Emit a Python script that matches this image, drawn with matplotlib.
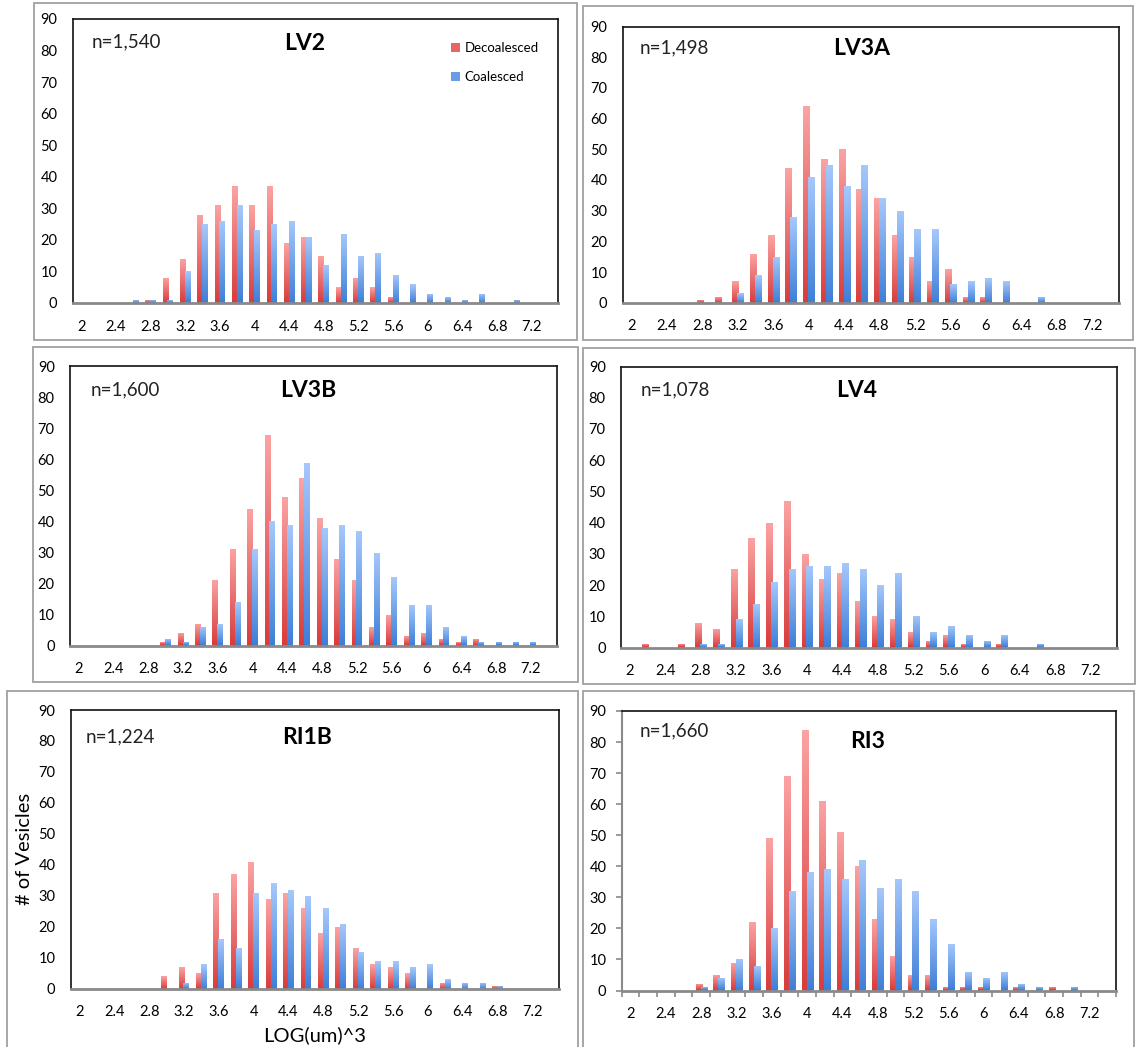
import matplotlib
matplotlib.use("Agg")
import matplotlib.pyplot as plt
import numpy as np
from matplotlib.colors import LinearSegmentedColormap
from matplotlib.patches import Rectangle, Patch

plt.rcParams['font.family'] = ['Lato', 'DejaVu Sans']

# bins of LOG(um)^3
bins = [2.0, 2.2, 2.4, 2.6, 2.8, 3.0, 3.2, 3.4, 3.6, 3.8, 4.0, 4.2, 4.4, 4.6,
        4.8, 5.0, 5.2, 5.4, 5.6, 5.8, 6.0, 6.2, 6.4, 6.6, 6.8, 7.0, 7.2, 7.4]
tick_labels = ["2", "2.4", "2.8", "3.2", "3.6", "4", "4.4", "4.8", "5.2",
               "5.6", "6", "6.4", "6.8", "7.2"]

names = ["LV2", "LV3A", "LV3B", "LV4", "RI1B", "RI3"]
counts = ["n=1,540", "n=1,498", "n=1,600", "n=1,078", "n=1,224", "n=1,660"]

lv2_dec = [0, 0, 0, 0, 1, 8, 14, 28, 31, 37, 31, 37, 19, 21, 15, 5, 8, 5, 2, 0, 0, 0, 0, 0, 0, 0, 0, 0]
lv2_coa = [0, 0, 0, 1, 1, 1, 10, 25, 26, 31, 23, 25, 26, 21, 12, 22, 15, 16, 9, 6, 3, 2, 1, 3, 0, 1, 0, 0]

lv3a_dec = [0, 0, 0, 0, 1, 2, 7, 16, 22, 44, 64, 47, 50, 37, 34, 22, 15, 7, 11, 2, 2, 0, 0, 0, 0, 0, 0, 0]
lv3a_coa = [0, 0, 0, 0, 0, 0, 3, 9, 15, 28, 41, 45, 38, 45, 34, 30, 24, 24, 6, 7, 8, 7, 0, 2, 0, 0, 0, 0]

lv3b_dec = [0, 0, 0, 0, 0, 1, 4, 7, 21, 31, 44, 68, 48, 54, 41, 28, 21, 6, 10, 3, 4, 2, 1, 2, 0, 0, 0, 0]
lv3b_coa = [0, 0, 0, 0, 0, 2, 1, 6, 7, 14, 31, 40, 39, 59, 38, 39, 37, 30, 22, 13, 13, 6, 3, 1, 1, 1, 1, 0]

lv4_dec = [0, 1, 0, 1, 8, 6, 25, 35, 40, 47, 30, 22, 24, 15, 10, 9, 5, 2, 4, 1, 0, 1, 0, 0, 0, 0, 0, 0]
lv4_coa = [0, 0, 0, 0, 1, 1, 9, 14, 21, 25, 26, 26, 27, 25, 20, 24, 10, 5, 7, 4, 2, 4, 0, 1, 0, 0, 0, 0]

ri1b_dec = [0, 0, 0, 0, 0, 4, 7, 5, 31, 37, 41, 29, 31, 26, 18, 20, 13, 8, 7, 5, 0, 2, 0, 0, 1, 0, 0, 0]
ri1b_coa = [0, 0, 0, 0, 0, 0, 2, 8, 16, 13, 31, 34, 32, 30, 26, 21, 12, 9, 9, 7, 8, 3, 2, 2, 1, 0, 0, 0]

ri3_dec = [0, 0, 0, 0, 2, 5, 9, 22, 49, 69, 84, 61, 51, 40, 23, 11, 5, 5, 1, 1, 1, 0, 1, 0, 1, 0, 0, 0]
ri3_coa = [0, 0, 0, 0, 1, 4, 10, 8, 20, 32, 38, 39, 36, 42, 33, 36, 32, 23, 15, 6, 4, 6, 2, 1, 0, 1, 0, 0]

decoalesced = [lv2_dec, lv3a_dec, lv3b_dec, lv4_dec, ri1b_dec, ri3_dec]
coalesced = [lv2_coa, lv3a_coa, lv3b_coa, lv4_coa, ri1b_coa, ri3_coa]

W, H = 1136, 1047
red_top, red_bot = "#fba3a3", "#d83c3c"
blue_top, blue_bot = "#a6c8fb", "#3f7fd8"

# plot frames in pixels: x0, x1, y_top, y_bottom
frames = [(72.7, 557.7, 19, 303), (622.7, 1118.7, 26.6, 302.7),
          (70, 557, 366.5, 645.5), (621, 1117, 366.5, 647.5),
          (70.7, 558.7, 710, 988.7), (621.7, 1116, 711, 990.5)]
# outer chart boxes in pixels
boxes = [(34, 577, 3, 340), (583, 1133, 6, 340), (33, 578, 347, 682),
         (583, 1135, 348, 684), (7, 578, 691, 1060), (583, 1134, 691, 1060)]
# label positions in axes fraction
n_pos = [(0.038, 0.92), (0.035, 0.922), (0.043, 0.915), (0.039, 0.918), (0.03, 0.903), (0.037, 0.93)]
t_pos = [(0.479, 0.915), (0.482, 0.92), (0.49, 0.915), (0.476, 0.915), (0.484, 0.9), (0.498, 0.89)]

fig = plt.figure(figsize=(W / 100, H / 100), dpi=100)

for (bx0, bx1, by0, by1) in boxes:
    fig.add_artist(Rectangle((bx0 / W, 1 - by1 / H), (bx1 - bx0) / W, (by1 - by0) / H,
                             transform=fig.transFigure, fill=False,
                             edgecolor="#a0a0a0", linewidth=1.3))


def gradient_bars(ax, x, h, c_top, c_bot):
    bars = ax.bar(x, h, width=0.34, color=c_bot, linewidth=0, zorder=2)
    cmap = LinearSegmentedColormap.from_list("g", [c_bot, c_top])
    grad = np.linspace(0, 1, 64).reshape(-1, 1)
    for b in bars:
        if b.get_height() <= 0:
            continue
        x0, y0 = b.get_x(), b.get_y()
        im = ax.imshow(grad, cmap=cmap, origin="lower", aspect="auto",
                       extent=[x0, x0 + b.get_width(), y0, y0 + b.get_height()],
                       zorder=2.5, interpolation="bilinear")
        im.set_clip_path(b)
    return bars


pos = np.arange(len(bins))
for i in range(6):
    x0, x1, yt, yb = frames[i]
    ax = fig.add_axes([x0 / W, 1 - yb / H, (x1 - x0) / W, (yb - yt) / H])
    gradient_bars(ax, pos - 0.14, decoalesced[i], red_top, red_bot)
    gradient_bars(ax, pos + 0.14, coalesced[i], blue_top, blue_bot)
    ax.set_xlim(-0.5, len(bins) - 0.5)
    ax.set_ylim(0, 90)
    ax.set_yticks(range(0, 91, 10))
    ax.set_xticks(pos[::2])
    ax.set_xticklabels(tick_labels)
    ax.tick_params(axis="both", labelsize=10.5, length=0, colors="#000000")
    ax.tick_params(axis="y", pad=11)
    ax.tick_params(axis="x", pad=12)
    for s in ["top", "right", "left"]:
        ax.spines[s].set_color("#111111")
        ax.spines[s].set_linewidth(1.2)
    ax.spines["bottom"].set_color("#8a8a8a")
    ax.spines["bottom"].set_linewidth(2)
    if i == 5:
        ax.spines["left"].set_color("#8a8a8a")
        ax.spines["left"].set_linewidth(1.5)
        ax.set_xticks(np.arange(-0.5, len(bins), 1.0), minor=True)
        ax.tick_params(axis="x", which="minor", length=4, width=1.2, color="#8a8a8a", direction="out")
        ax.tick_params(axis="y", length=4, width=1.2, color="#8a8a8a", direction="out", pad=7)
    ax.text(n_pos[i][0], n_pos[i][1], counts[i], transform=ax.transAxes,
            fontsize=13.5, ha="left", va="center", color="#222222")
    ax.text(t_pos[i][0], t_pos[i][1], names[i], transform=ax.transAxes,
            fontsize=16.5, fontweight="bold", ha="center", va="center")
    if i == 0:
        handles = [Patch(facecolor="#e86565", label="Decoalesced"),
                   Patch(facecolor="#6a9be6", label="Coalesced")]
        ax.legend(handles=handles, loc="upper right", bbox_to_anchor=(0.985, 0.96),
                  frameon=False, fontsize=9.5, handlelength=0.7, handleheight=0.7,
                  handletextpad=0.3, labelspacing=1.3)
    if i == 4:
        ax.set_ylabel("# of Vesicles", fontsize=14.5, labelpad=4)
        ax.set_xlabel("LOG(um)^3", fontsize=14.5, labelpad=5)

plt.savefig("out.png", dpi=100)
